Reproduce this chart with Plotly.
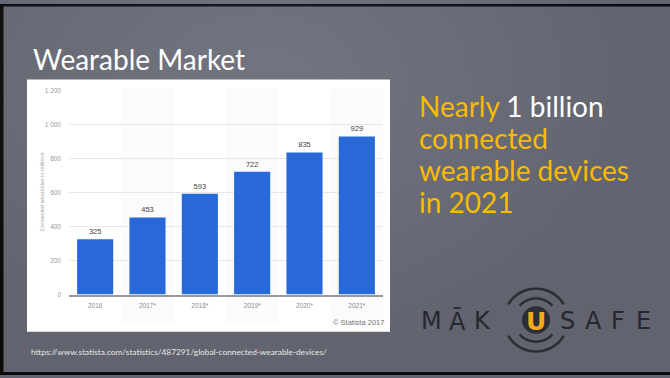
import plotly.graph_objects as go
import math

# ---- data ----
years = ["2016", "2017*", "2018*", "2019*", "2020*", "2021*"]
devices = [325, 453, 593, 722, 835, 929]
y_tickvals = [0, 200, 400, 600, 800, 1000, 1200]
y_ticktext = ["0", "200", "400", "600", "800", "1 000", "1 200"]

W, H = 670, 378


def px(x):
    return x / W


def py(y):
    return 1 - y / H


fig = go.Figure()
fig.add_trace(go.Bar(
    x=years, y=devices,
    marker=dict(color="#2868d8", line=dict(width=0)),
    text=[str(v) for v in devices], textposition="outside",
    textfont=dict(family="Liberation Sans", size=7.5, color="#444444"),
    cliponaxis=False, hoverinfo="skip",
))

shapes = []
# slide black border
shapes.append(dict(type="rect", xref="paper", yref="paper", x0=0, x1=1, y0=py(0), y1=py(2.5),
                   fillcolor="#0a0a0a", line=dict(width=0), layer="below"))
shapes.append(dict(type="rect", xref="paper", yref="paper", x0=0, x1=px(3.5), y0=0, y1=1,
                   fillcolor="#0a0a0a", line=dict(width=0), layer="below"))
shapes.append(dict(type="rect", xref="paper", yref="paper", x0=0, x1=1, y0=0, y1=py(375),
                   fillcolor="#0a0a0a", line=dict(width=0), layer="below"))
# subtle background glow
for k in range(16):
    r = 40 + k * 16
    shapes.append(dict(type="circle", xref="paper", yref="paper",
                       x0=px(260 - r * 1.4), x1=px(260 + r * 1.4), y0=py(80 + r), y1=py(80 - r),
                       fillcolor="rgba(255,255,255,0.006)", line=dict(width=0), layer="below"))
# white chart panel
shapes.append(dict(type="rect", xref="paper", yref="paper", x0=px(27), x1=px(390), y0=py(334), y1=py(77),
                   fillcolor="#ffffff", line=dict(width=0), layer="below"))
# alternating column shading
for i in [1, 3, 5]:
    shapes.append(dict(type="rect", xref="x", yref="paper", x0=i - 0.5, x1=i + 0.5,
                       y0=py(326), y1=py(86), fillcolor="#fbfbfb", line=dict(width=0), layer="below"))

# logo arcs
cx, cy = 536, 322


def arc(r, a0, a1, n=30):
    pts = []
    for k in range(n + 1):
        a = math.radians(a0 + (a1 - a0) * k / n)
        pts.append((px(cx + r * math.sin(a)), py(cy - r * math.cos(a))))
    return "M " + " L ".join(f"{x:.5f},{y:.5f}" for x, y in pts)


for r, span in [(22, 48), (32, 60)]:
    shapes.append(dict(type="path", xref="paper", yref="paper", path=arc(r, -span, span),
                       line=dict(color="#2b2d35", width=2.5)))
    shapes.append(dict(type="path", xref="paper", yref="paper", path=arc(r, 180 - span, 180 + span),
                       line=dict(color="#2b2d35", width=2.5)))
shapes.append(dict(type="circle", xref="paper", yref="paper", x0=px(cx - 14), x1=px(cx + 14),
                   y0=py(cy + 14), y1=py(cy - 14), fillcolor="#2c2e36", line=dict(width=0)))

annotations = []
# title
annotations.append(dict(x=px(31), y=py(56), xref="paper", yref="paper", xanchor="left", yanchor="middle",
                        text="Wearable Market", showarrow=False,
                        font=dict(family="Lato", size=28, color="#ffffff")))
# right text
lines = [
    '<span style="color:#f7bb00">Nearly</span> 1 billion',
    '<span style="color:#f7bb00">connected</span>',
    '<span style="color:#f7bb00">wearable devices</span>',
    '<span style="color:#f7bb00">in 2021</span>',
]
for k, t in enumerate(lines):
    annotations.append(dict(x=px(417), y=py(104 + 32.5 * k), xref="paper", yref="paper",
                            xanchor="left", yanchor="middle", text=t, showarrow=False,
                            font=dict(family="Lato", size=28, color="#ffffff")))
# y axis title
annotations.append(dict(x=px(37), y=py(192), xref="paper", yref="paper", textangle=-90,
                        text="Connected wearables in millions", showarrow=False,
                        font=dict(family="Liberation Sans", size=5.5, color="#a8a8a8")))
# source
annotations.append(dict(x=px(386), y=py(325), xref="paper", yref="paper", xanchor="right",
                        yanchor="middle", text="© Statista 2017", showarrow=False,
                        font=dict(family="Liberation Sans", size=7.5, color="#777777")))
# url
annotations.append(dict(x=px(29), y=py(355), xref="paper", yref="paper", xanchor="left",
                        yanchor="middle",
                        text="https://www.statista.com/statistics/487291/global-connected-wearable-devices/",
                        showarrow=False, font=dict(family="Lato", size=8.3, color="#e6e6e6")))
# logo letters
for ch, xc in [("M", 431), ("Ā", 457), ("K", 483), ("S", 567), ("A", 593), ("F", 618), ("E", 643)]:
    annotations.append(dict(x=px(xc), y=py(323), xref="paper", yref="paper", xanchor="center",
                            yanchor="middle", text=ch, showarrow=False,
                            font=dict(family="DejaVu Sans", size=24, color="#26282f")))
annotations.append(dict(x=px(cx), y=py(323), xref="paper", yref="paper", xanchor="center",
                        yanchor="middle", text="U", showarrow=False,
                        font=dict(family="DejaVu Sans", size=25, color="#f2aa1c", weight="bold")))

fig.update_layout(
    width=W, height=H, margin=dict(l=0, r=0, t=0, b=0),
    paper_bgcolor="#61636e", plot_bgcolor="rgba(0,0,0,0)",
    showlegend=False, bargap=0.31,
    shapes=shapes, annotations=annotations,
    xaxis=dict(domain=[px(69), px(383)], range=[-0.5, 5.5], showgrid=False, showline=True,
               linecolor="#999999", linewidth=2, ticks="", ticklabelstandoff=4,
               tickfont=dict(family="Liberation Sans", size=6.5, color="#8a8a8a"), fixedrange=True),
    yaxis=dict(domain=[py(296), py(88)], range=[0, 1200], tickvals=y_tickvals, ticktext=y_ticktext,
               showgrid=True, gridcolor="#e8e8e8", gridwidth=1, zeroline=False, showline=False,
               ticks="", ticklabelstandoff=7,
               tickfont=dict(family="Liberation Sans", size=6.5, color="#9a9a9a"), fixedrange=True),
)

fig.write_html("out.html")
